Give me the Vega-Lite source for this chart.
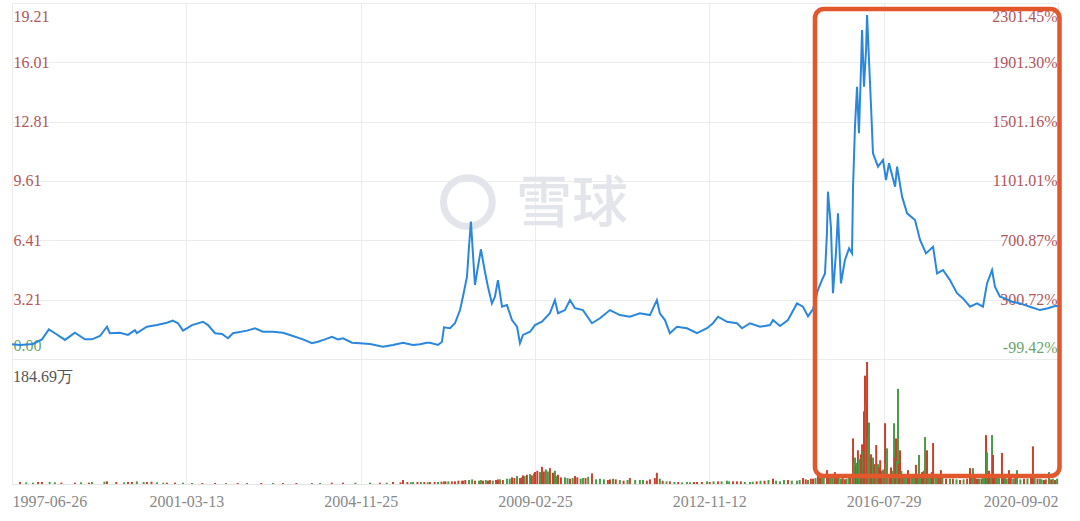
{
  "$schema": "https://vega.github.io/schema/vega-lite/v6.json",
  "width": 1046,
  "height": 481,
  "autosize": {"type": "none"},
  "padding": {"left": 12, "top": 3, "right": 22, "bottom": 37},
  "background": "white",
  "datasets": {
    "highlight": [{"start": "2015-02-11", "end": "2020-09-15"}],
    "logo": [{"date": "2007-07-08", "name": "雪球"}],
    "wordmark": [{"date": "2009-12-09", "name": "雪球"}],
    "vollabel": [{"date": "1997-06-26", "label": "184.69万"}],
    "price": [
      {"date": "1997-06-26", "price": 0.79}, {"date": "1997-08-27", "price": 0.76}, {"date": "1997-12-06", "price": 0.81},
      {"date": "1998-02-14", "price": 1.06}, {"date": "1998-04-09", "price": 1.60}, {"date": "1998-05-26", "price": 1.39},
      {"date": "1998-08-12", "price": 1.03}, {"date": "1998-10-28", "price": 1.42}, {"date": "1999-01-14", "price": 1.06},
      {"date": "1999-03-10", "price": 1.06}, {"date": "1999-05-11", "price": 1.24}, {"date": "1999-07-05", "price": 1.74},
      {"date": "1999-07-27", "price": 1.39}, {"date": "1999-10-13", "price": 1.42}, {"date": "1999-12-15", "price": 1.30},
      {"date": "2000-02-07", "price": 1.56}, {"date": "2000-02-22", "price": 1.40}, {"date": "2000-05-10", "price": 1.74},
      {"date": "2000-07-27", "price": 1.83}, {"date": "2000-10-13", "price": 1.96}, {"date": "2000-11-28", "price": 2.07},
      {"date": "2001-01-07", "price": 1.93}, {"date": "2001-02-15", "price": 1.53}, {"date": "2001-04-26", "price": 1.83},
      {"date": "2001-07-20", "price": 2.01}, {"date": "2001-08-28", "price": 1.83}, {"date": "2001-10-22", "price": 1.39},
      {"date": "2001-12-15", "price": 1.35}, {"date": "2002-01-30", "price": 1.12}, {"date": "2002-03-10", "price": 1.39},
      {"date": "2002-06-27", "price": 1.53}, {"date": "2002-08-28", "price": 1.66}, {"date": "2002-10-28", "price": 1.47},
      {"date": "2003-01-14", "price": 1.47}, {"date": "2003-04-02", "price": 1.42}, {"date": "2003-06-18", "price": 1.24},
      {"date": "2003-09-04", "price": 1.06}, {"date": "2003-11-13", "price": 0.85}, {"date": "2003-12-29", "price": 0.93},
      {"date": "2004-02-22", "price": 1.06}, {"date": "2004-04-16", "price": 1.20}, {"date": "2004-06-02", "price": 1.06},
      {"date": "2004-07-11", "price": 1.12}, {"date": "2004-09-19", "price": 0.88}, {"date": "2004-11-19", "price": 0.85},
      {"date": "2005-02-16", "price": 0.81}, {"date": "2005-06-12", "price": 0.66}, {"date": "2005-09-09", "price": 0.76},
      {"date": "2005-12-07", "price": 0.88}, {"date": "2006-03-06", "price": 0.76}, {"date": "2006-05-07", "price": 0.80},
      {"date": "2006-07-09", "price": 0.88}, {"date": "2006-08-04", "price": 0.88}, {"date": "2006-10-15", "price": 0.76},
      {"date": "2006-11-19", "price": 0.93}, {"date": "2006-12-07", "price": 1.71}, {"date": "2007-01-30", "price": 1.66},
      {"date": "2007-03-15", "price": 1.93}, {"date": "2007-04-29", "price": 2.64}, {"date": "2007-05-25", "price": 3.36},
      {"date": "2007-06-30", "price": 4.44}, {"date": "2007-07-18", "price": 6.06}, {"date": "2007-08-04", "price": 7.41},
      {"date": "2007-08-22", "price": 5.70}, {"date": "2007-09-09", "price": 3.99}, {"date": "2007-10-06", "price": 4.98},
      {"date": "2007-11-01", "price": 5.92}, {"date": "2007-12-07", "price": 4.71}, {"date": "2008-01-03", "price": 3.90},
      {"date": "2008-02-07", "price": 3.00}, {"date": "2008-03-05", "price": 3.36}, {"date": "2008-04-01", "price": 4.26},
      {"date": "2008-05-07", "price": 2.82}, {"date": "2008-06-20", "price": 2.91}, {"date": "2008-08-04", "price": 2.10},
      {"date": "2008-09-18", "price": 1.74}, {"date": "2008-10-14", "price": 0.85}, {"date": "2008-11-10", "price": 1.30},
      {"date": "2009-01-12", "price": 1.47}, {"date": "2009-02-25", "price": 1.83}, {"date": "2009-04-20", "price": 2.01},
      {"date": "2009-06-21", "price": 2.47}, {"date": "2009-07-30", "price": 3.18}, {"date": "2009-08-23", "price": 2.47},
      {"date": "2009-10-16", "price": 2.64}, {"date": "2009-11-24", "price": 3.18}, {"date": "2010-01-02", "price": 2.74},
      {"date": "2010-03-05", "price": 2.64}, {"date": "2010-05-14", "price": 1.93}, {"date": "2010-07-15", "price": 2.20},
      {"date": "2010-10-01", "price": 2.64}, {"date": "2010-12-17", "price": 2.37}, {"date": "2011-03-05", "price": 2.28},
      {"date": "2011-05-22", "price": 2.47}, {"date": "2011-08-08", "price": 2.37}, {"date": "2011-10-01", "price": 3.18},
      {"date": "2011-10-24", "price": 2.47}, {"date": "2011-12-03", "price": 2.10}, {"date": "2012-01-10", "price": 1.39},
      {"date": "2012-03-05", "price": 1.74}, {"date": "2012-05-22", "price": 1.66}, {"date": "2012-08-08", "price": 1.39},
      {"date": "2012-10-25", "price": 1.66}, {"date": "2012-12-10", "price": 1.93}, {"date": "2013-01-19", "price": 2.28},
      {"date": "2013-03-29", "price": 2.01}, {"date": "2013-06-15", "price": 1.93}, {"date": "2013-07-24", "price": 1.66},
      {"date": "2013-09-24", "price": 1.93}, {"date": "2013-12-11", "price": 1.74}, {"date": "2014-02-27", "price": 1.83},
      {"date": "2014-03-22", "price": 2.10}, {"date": "2014-05-15", "price": 1.78}, {"date": "2014-07-16", "price": 2.10},
      {"date": "2014-09-24", "price": 3.00}, {"date": "2014-11-10", "price": 2.82}, {"date": "2014-12-19", "price": 2.30},
      {"date": "2015-01-27", "price": 2.70}, {"date": "2015-03-06", "price": 3.72}, {"date": "2015-04-06", "price": 4.26},
      {"date": "2015-04-30", "price": 4.62}, {"date": "2015-05-15", "price": 6.78}, {"date": "2015-05-23", "price": 9.03},
      {"date": "2015-06-15", "price": 7.14}, {"date": "2015-07-01", "price": 3.55}, {"date": "2015-07-24", "price": 5.70},
      {"date": "2015-08-09", "price": 7.86}, {"date": "2015-09-01", "price": 4.08}, {"date": "2015-10-02", "price": 5.34},
      {"date": "2015-11-03", "price": 5.97}, {"date": "2015-11-26", "price": 5.70}, {"date": "2015-12-04", "price": 9.30},
      {"date": "2015-12-19", "price": 12.54}, {"date": "2016-01-04", "price": 14.69}, {"date": "2016-01-19", "price": 12.18},
      {"date": "2016-02-04", "price": 15.77}, {"date": "2016-02-12", "price": 17.75}, {"date": "2016-02-27", "price": 14.69},
      {"date": "2016-03-14", "price": 16.67}, {"date": "2016-03-22", "price": 18.56}, {"date": "2016-04-06", "price": 16.13},
      {"date": "2016-04-22", "price": 13.61}, {"date": "2016-05-07", "price": 11.10}, {"date": "2016-06-15", "price": 10.38},
      {"date": "2016-07-24", "price": 10.74}, {"date": "2016-08-18", "price": 9.66}, {"date": "2016-09-13", "price": 10.56},
      {"date": "2016-11-04", "price": 9.30}, {"date": "2016-11-21", "price": 10.38}, {"date": "2017-01-03", "price": 8.76},
      {"date": "2017-02-15", "price": 7.86}, {"date": "2017-04-24", "price": 7.50}, {"date": "2017-06-06", "price": 6.42},
      {"date": "2017-07-27", "price": 5.70}, {"date": "2017-09-26", "price": 6.06}, {"date": "2017-10-30", "price": 4.62},
      {"date": "2017-12-20", "price": 4.80}, {"date": "2018-02-18", "price": 4.26}, {"date": "2018-04-19", "price": 3.55},
      {"date": "2018-06-10", "price": 3.27}, {"date": "2018-08-09", "price": 2.82}, {"date": "2018-10-08", "price": 3.00},
      {"date": "2018-11-28", "price": 2.82}, {"date": "2019-01-02", "price": 4.08}, {"date": "2019-02-14", "price": 4.80},
      {"date": "2019-03-11", "price": 3.90}, {"date": "2019-04-23", "price": 3.36}, {"date": "2019-06-05", "price": 3.27},
      {"date": "2019-08-04", "price": 3.09}, {"date": "2019-10-12", "price": 3.00}, {"date": "2020-01-05", "price": 2.82},
      {"date": "2020-03-31", "price": 2.64}, {"date": "2020-06-08", "price": 2.74}, {"date": "2020-08-07", "price": 2.86},
      {"date": "2020-09-02", "price": 2.86}
    ],
    "volume": [
      {"date": "1997-08-27", "vol": 3, "dir": "up"}, {"date": "1997-10-15", "vol": 2.5, "dir": "down"}, {"date": "1997-12-06", "vol": 2, "dir": "down"},
      {"date": "1998-01-15", "vol": 3, "dir": "up"}, {"date": "1998-02-14", "vol": 3, "dir": "up"}, {"date": "1998-04-15", "vol": 3, "dir": "down"},
      {"date": "1998-05-26", "vol": 2.5, "dir": "down"}, {"date": "1998-07-15", "vol": 2, "dir": "up"}, {"date": "1998-10-28", "vol": 2, "dir": "up"},
      {"date": "1998-12-15", "vol": 2.5, "dir": "down"}, {"date": "1999-02-15", "vol": 2, "dir": "up"}, {"date": "1999-03-10", "vol": 3, "dir": "down"},
      {"date": "1999-06-15", "vol": 3.5, "dir": "down"}, {"date": "1999-07-05", "vol": 4, "dir": "up"}, {"date": "1999-09-15", "vol": 3, "dir": "up"},
      {"date": "1999-11-15", "vol": 2.5, "dir": "down"}, {"date": "1999-12-15", "vol": 3, "dir": "up"}, {"date": "2000-01-15", "vol": 3, "dir": "up"},
      {"date": "2000-02-22", "vol": 4, "dir": "down"}, {"date": "2000-04-15", "vol": 3, "dir": "down"}, {"date": "2000-05-10", "vol": 3, "dir": "up"},
      {"date": "2000-06-15", "vol": 3.5, "dir": "up"}, {"date": "2000-07-27", "vol": 2.5, "dir": "down"}, {"date": "2000-09-15", "vol": 2, "dir": "down"},
      {"date": "2000-10-13", "vol": 2, "dir": "up"}, {"date": "2000-12-15", "vol": 2, "dir": "up"}, {"date": "2001-02-15", "vol": 2, "dir": "down"},
      {"date": "2001-04-26", "vol": 1.5, "dir": "down"}, {"date": "2001-07-15", "vol": 1.5, "dir": "up"}, {"date": "2001-10-22", "vol": 1.5, "dir": "up"},
      {"date": "2002-01-15", "vol": 1.5, "dir": "down"}, {"date": "2002-04-15", "vol": 1.5, "dir": "up"}, {"date": "2002-06-27", "vol": 1.5, "dir": "down"},
      {"date": "2002-10-15", "vol": 1.5, "dir": "up"}, {"date": "2003-01-15", "vol": 1.5, "dir": "down"}, {"date": "2003-04-02", "vol": 1.5, "dir": "up"},
      {"date": "2003-07-15", "vol": 1.5, "dir": "up"}, {"date": "2003-11-13", "vol": 1.5, "dir": "down"}, {"date": "2004-01-15", "vol": 1.5, "dir": "down"},
      {"date": "2004-04-15", "vol": 2, "dir": "up"}, {"date": "2004-07-11", "vol": 2, "dir": "up"}, {"date": "2004-10-15", "vol": 2, "dir": "down"},
      {"date": "2005-02-16", "vol": 2, "dir": "down"}, {"date": "2005-05-15", "vol": 2, "dir": "up"}, {"date": "2005-07-15", "vol": 2, "dir": "down"},
      {"date": "2005-09-09", "vol": 3, "dir": "up"}, {"date": "2005-11-15", "vol": 2.5, "dir": "up"}, {"date": "2005-12-07", "vol": 6, "dir": "up"},
      {"date": "2006-01-15", "vol": 3, "dir": "up"}, {"date": "2006-02-15", "vol": 2.5, "dir": "down"}, {"date": "2006-03-06", "vol": 3, "dir": "down"},
      {"date": "2006-04-15", "vol": 3, "dir": "up"}, {"date": "2006-05-15", "vol": 3, "dir": "down"}, {"date": "2006-06-15", "vol": 3, "dir": "up"},
      {"date": "2006-07-15", "vol": 2.5, "dir": "down"}, {"date": "2006-08-04", "vol": 3, "dir": "up"}, {"date": "2006-09-15", "vol": 3, "dir": "up"},
      {"date": "2006-10-15", "vol": 3, "dir": "down"}, {"date": "2006-11-15", "vol": 3.5, "dir": "up"}, {"date": "2006-12-07", "vol": 4, "dir": "down"},
      {"date": "2006-12-20", "vol": 4, "dir": "up"}, {"date": "2007-01-15", "vol": 4, "dir": "down"}, {"date": "2007-02-15", "vol": 4, "dir": "up"},
      {"date": "2007-03-15", "vol": 4, "dir": "up"}, {"date": "2007-04-15", "vol": 5, "dir": "up"}, {"date": "2007-05-15", "vol": 5, "dir": "down"},
      {"date": "2007-05-25", "vol": 5, "dir": "up"}, {"date": "2007-06-15", "vol": 6, "dir": "up"}, {"date": "2007-07-18", "vol": 6, "dir": "down"},
      {"date": "2007-08-15", "vol": 7, "dir": "down"}, {"date": "2007-09-09", "vol": 5, "dir": "up"}, {"date": "2007-10-15", "vol": 5, "dir": "down"},
      {"date": "2007-11-01", "vol": 6, "dir": "down"}, {"date": "2007-11-20", "vol": 5, "dir": "up"}, {"date": "2007-12-15", "vol": 6, "dir": "down"},
      {"date": "2008-01-03", "vol": 5, "dir": "up"}, {"date": "2008-01-20", "vol": 6, "dir": "up"}, {"date": "2008-02-15", "vol": 5, "dir": "down"},
      {"date": "2008-03-15", "vol": 6, "dir": "up"}, {"date": "2008-04-01", "vol": 7, "dir": "up"}, {"date": "2008-04-20", "vol": 7, "dir": "down"},
      {"date": "2008-05-15", "vol": 6, "dir": "up"}, {"date": "2008-06-20", "vol": 8, "dir": "down"}, {"date": "2008-07-15", "vol": 8, "dir": "down"},
      {"date": "2008-08-04", "vol": 10, "dir": "up"}, {"date": "2008-08-25", "vol": 9, "dir": "up"}, {"date": "2008-09-18", "vol": 12, "dir": "down"},
      {"date": "2008-10-14", "vol": 9, "dir": "up"}, {"date": "2008-10-30", "vol": 10, "dir": "up"}, {"date": "2008-11-10", "vol": 13, "dir": "up"},
      {"date": "2008-11-25", "vol": 12, "dir": "down"}, {"date": "2008-12-15", "vol": 14, "dir": "up"}, {"date": "2009-01-12", "vol": 15, "dir": "down"},
      {"date": "2009-01-28", "vol": 13, "dir": "up"}, {"date": "2009-02-15", "vol": 16, "dir": "down"}, {"date": "2009-02-25", "vol": 18, "dir": "up"},
      {"date": "2009-03-15", "vol": 20, "dir": "up"}, {"date": "2009-04-05", "vol": 18, "dir": "down"}, {"date": "2009-04-20", "vol": 26, "dir": "up"},
      {"date": "2009-05-05", "vol": 19, "dir": "up"}, {"date": "2009-05-21", "vol": 22, "dir": "down"}, {"date": "2009-06-05", "vol": 19, "dir": "down"},
      {"date": "2009-06-21", "vol": 24, "dir": "up"}, {"date": "2009-07-15", "vol": 17, "dir": "up"}, {"date": "2009-07-30", "vol": 20, "dir": "down"},
      {"date": "2009-08-10", "vol": 12, "dir": "down"}, {"date": "2009-08-23", "vol": 14, "dir": "up"}, {"date": "2009-09-15", "vol": 10, "dir": "up"},
      {"date": "2009-10-16", "vol": 10, "dir": "down"}, {"date": "2009-11-05", "vol": 9, "dir": "down"}, {"date": "2009-11-24", "vol": 8, "dir": "up"},
      {"date": "2009-12-15", "vol": 9, "dir": "down"}, {"date": "2010-01-02", "vol": 12, "dir": "up"}, {"date": "2010-01-20", "vol": 10, "dir": "up"},
      {"date": "2010-02-15", "vol": 8, "dir": "down"}, {"date": "2010-03-05", "vol": 9, "dir": "down"}, {"date": "2010-03-25", "vol": 9, "dir": "up"},
      {"date": "2010-04-15", "vol": 11, "dir": "down"}, {"date": "2010-05-14", "vol": 16, "dir": "up"}, {"date": "2010-06-15", "vol": 7, "dir": "down"},
      {"date": "2010-07-15", "vol": 8, "dir": "down"}, {"date": "2010-08-15", "vol": 7, "dir": "down"}, {"date": "2010-09-15", "vol": 6, "dir": "up"},
      {"date": "2010-10-01", "vol": 7, "dir": "up"}, {"date": "2010-10-25", "vol": 8, "dir": "down"}, {"date": "2010-11-15", "vol": 7, "dir": "up"},
      {"date": "2010-12-17", "vol": 6, "dir": "down"}, {"date": "2011-01-15", "vol": 5, "dir": "up"}, {"date": "2011-02-15", "vol": 6, "dir": "down"},
      {"date": "2011-03-05", "vol": 9, "dir": "up"}, {"date": "2011-04-15", "vol": 6, "dir": "down"}, {"date": "2011-05-22", "vol": 6, "dir": "down"},
      {"date": "2011-06-15", "vol": 6, "dir": "down"}, {"date": "2011-07-15", "vol": 5, "dir": "up"}, {"date": "2011-08-08", "vol": 7, "dir": "up"},
      {"date": "2011-09-15", "vol": 9, "dir": "up"}, {"date": "2011-10-01", "vol": 17, "dir": "up"}, {"date": "2011-10-24", "vol": 8, "dir": "down"},
      {"date": "2011-11-15", "vol": 5, "dir": "up"}, {"date": "2011-12-15", "vol": 4, "dir": "down"}, {"date": "2012-01-10", "vol": 4, "dir": "up"},
      {"date": "2012-02-15", "vol": 3, "dir": "down"}, {"date": "2012-03-15", "vol": 3, "dir": "up"}, {"date": "2012-04-15", "vol": 2.5, "dir": "down"},
      {"date": "2012-05-22", "vol": 3, "dir": "down"}, {"date": "2012-06-15", "vol": 2.5, "dir": "down"}, {"date": "2012-07-15", "vol": 3, "dir": "up"},
      {"date": "2012-08-08", "vol": 3, "dir": "up"}, {"date": "2012-09-15", "vol": 3, "dir": "up"}, {"date": "2012-10-25", "vol": 4, "dir": "down"},
      {"date": "2012-11-15", "vol": 3, "dir": "up"}, {"date": "2012-12-15", "vol": 4, "dir": "down"}, {"date": "2013-01-19", "vol": 4, "dir": "up"},
      {"date": "2013-02-15", "vol": 4, "dir": "down"}, {"date": "2013-03-29", "vol": 5, "dir": "down"}, {"date": "2013-04-15", "vol": 4, "dir": "down"},
      {"date": "2013-05-15", "vol": 4, "dir": "up"}, {"date": "2013-06-15", "vol": 4, "dir": "up"}, {"date": "2013-07-15", "vol": 4, "dir": "up"},
      {"date": "2013-08-15", "vol": 3, "dir": "down"}, {"date": "2013-09-24", "vol": 3, "dir": "down"}, {"date": "2013-10-15", "vol": 3.5, "dir": "down"},
      {"date": "2013-11-15", "vol": 4, "dir": "up"}, {"date": "2013-12-15", "vol": 5, "dir": "down"}, {"date": "2014-01-15", "vol": 5, "dir": "up"},
      {"date": "2014-02-15", "vol": 6, "dir": "down"}, {"date": "2014-03-22", "vol": 8, "dir": "up"}, {"date": "2014-04-15", "vol": 5, "dir": "down"},
      {"date": "2014-05-15", "vol": 4, "dir": "down"}, {"date": "2014-06-15", "vol": 6, "dir": "down"}, {"date": "2014-07-16", "vol": 6, "dir": "up"},
      {"date": "2014-08-15", "vol": 5, "dir": "down"}, {"date": "2014-09-24", "vol": 5, "dir": "down"}, {"date": "2014-10-15", "vol": 6, "dir": "down"},
      {"date": "2014-11-10", "vol": 9, "dir": "up"}, {"date": "2014-12-01", "vol": 7, "dir": "up"}, {"date": "2014-12-19", "vol": 6, "dir": "down"},
      {"date": "2015-01-10", "vol": 8, "dir": "up"}, {"date": "2015-01-27", "vol": 8, "dir": "up"}, {"date": "2015-02-15", "vol": 9, "dir": "down"},
      {"date": "2015-03-06", "vol": 12, "dir": "up"}, {"date": "2015-03-22", "vol": 10, "dir": "up"}, {"date": "2015-04-06", "vol": 9, "dir": "down"},
      {"date": "2015-04-20", "vol": 12, "dir": "down"}, {"date": "2015-05-15", "vol": 21, "dir": "up"}, {"date": "2015-05-30", "vol": 14, "dir": "up"},
      {"date": "2015-06-15", "vol": 10, "dir": "down"}, {"date": "2015-06-30", "vol": 12, "dir": "down"}, {"date": "2015-07-16", "vol": 18, "dir": "up"},
      {"date": "2015-08-01", "vol": 10, "dir": "up"}, {"date": "2015-08-15", "vol": 12, "dir": "down"}, {"date": "2015-09-01", "vol": 8, "dir": "down"},
      {"date": "2015-09-15", "vol": 9, "dir": "up"}, {"date": "2015-10-02", "vol": 7, "dir": "up"}, {"date": "2015-10-15", "vol": 8, "dir": "down"},
      {"date": "2015-11-03", "vol": 10, "dir": "down"}, {"date": "2015-11-15", "vol": 10, "dir": "up"}, {"date": "2015-12-04", "vol": 69, "dir": "up"},
      {"date": "2015-12-12", "vol": 30, "dir": "down"}, {"date": "2015-12-19", "vol": 40, "dir": "down"}, {"date": "2015-12-27", "vol": 28, "dir": "up"},
      {"date": "2016-01-04", "vol": 32, "dir": "down"}, {"date": "2016-01-11", "vol": 51, "dir": "up"}, {"date": "2016-01-19", "vol": 38, "dir": "down"},
      {"date": "2016-01-27", "vol": 35, "dir": "down"}, {"date": "2016-02-04", "vol": 45, "dir": "up"}, {"date": "2016-02-12", "vol": 60, "dir": "up"},
      {"date": "2016-02-20", "vol": 50, "dir": "down"}, {"date": "2016-02-27", "vol": 110, "dir": "up"}, {"date": "2016-03-06", "vol": 164, "dir": "up"},
      {"date": "2016-03-14", "vol": 120, "dir": "down"}, {"date": "2016-03-22", "vol": 184.69, "dir": "up"}, {"date": "2016-03-30", "vol": 70, "dir": "down"},
      {"date": "2016-04-06", "vol": 93, "dir": "down"}, {"date": "2016-04-14", "vol": 40, "dir": "down"}, {"date": "2016-04-22", "vol": 45, "dir": "up"},
      {"date": "2016-04-30", "vol": 35, "dir": "up"}, {"date": "2016-05-07", "vol": 40, "dir": "down"}, {"date": "2016-05-18", "vol": 30, "dir": "up"},
      {"date": "2016-06-01", "vol": 59, "dir": "up"}, {"date": "2016-06-08", "vol": 28, "dir": "down"}, {"date": "2016-06-15", "vol": 30, "dir": "down"},
      {"date": "2016-06-24", "vol": 25, "dir": "up"}, {"date": "2016-07-02", "vol": 36, "dir": "up"}, {"date": "2016-07-15", "vol": 20, "dir": "up"},
      {"date": "2016-07-25", "vol": 22, "dir": "down"}, {"date": "2016-08-10", "vol": 92, "dir": "up"}, {"date": "2016-08-18", "vol": 30, "dir": "down"},
      {"date": "2016-08-27", "vol": 54, "dir": "down"}, {"date": "2016-09-15", "vol": 15, "dir": "up"}, {"date": "2016-09-30", "vol": 25, "dir": "up"},
      {"date": "2016-10-15", "vol": 20, "dir": "down"}, {"date": "2016-10-26", "vol": 92, "dir": "down"}, {"date": "2016-11-05", "vol": 40, "dir": "up"},
      {"date": "2016-11-12", "vol": 69, "dir": "up"}, {"date": "2016-11-20", "vol": 35, "dir": "down"}, {"date": "2016-11-29", "vol": 144, "dir": "down"},
      {"date": "2016-12-08", "vol": 30, "dir": "up"}, {"date": "2016-12-16", "vol": 51, "dir": "up"}, {"date": "2016-12-28", "vol": 20, "dir": "down"},
      {"date": "2017-01-10", "vol": 12, "dir": "up"}, {"date": "2017-01-20", "vol": 15, "dir": "down"}, {"date": "2017-02-05", "vol": 10, "dir": "down"},
      {"date": "2017-02-23", "vol": 21, "dir": "up"}, {"date": "2017-03-10", "vol": 12, "dir": "up"}, {"date": "2017-03-29", "vol": 12, "dir": "down"},
      {"date": "2017-04-15", "vol": 10, "dir": "down"}, {"date": "2017-05-02", "vol": 29, "dir": "up"}, {"date": "2017-05-15", "vol": 15, "dir": "up"},
      {"date": "2017-05-28", "vol": 44, "dir": "down"}, {"date": "2017-06-10", "vol": 12, "dir": "down"}, {"date": "2017-06-23", "vol": 18, "dir": "up"},
      {"date": "2017-07-08", "vol": 20, "dir": "up"}, {"date": "2017-07-19", "vol": 71, "dir": "down"}, {"date": "2017-08-05", "vol": 51, "dir": "up"},
      {"date": "2017-08-15", "vol": 15, "dir": "down"}, {"date": "2017-08-31", "vol": 15, "dir": "down"}, {"date": "2017-09-15", "vol": 18, "dir": "up"},
      {"date": "2017-09-26", "vol": 62, "dir": "up"}, {"date": "2017-10-15", "vol": 12, "dir": "down"}, {"date": "2017-10-30", "vol": 10, "dir": "down"},
      {"date": "2017-11-15", "vol": 10, "dir": "up"}, {"date": "2017-12-02", "vol": 21, "dir": "up"}, {"date": "2017-12-15", "vol": 10, "dir": "down"},
      {"date": "2018-01-15", "vol": 8, "dir": "up"}, {"date": "2018-02-18", "vol": 8, "dir": "down"}, {"date": "2018-03-15", "vol": 8, "dir": "up"},
      {"date": "2018-04-15", "vol": 7, "dir": "down"}, {"date": "2018-05-15", "vol": 6, "dir": "up"}, {"date": "2018-06-15", "vol": 7, "dir": "down"},
      {"date": "2018-07-15", "vol": 8, "dir": "up"}, {"date": "2018-08-09", "vol": 24, "dir": "up"}, {"date": "2018-08-25", "vol": 10, "dir": "down"},
      {"date": "2018-09-03", "vol": 24, "dir": "down"}, {"date": "2018-09-20", "vol": 9, "dir": "up"}, {"date": "2018-10-08", "vol": 8, "dir": "up"},
      {"date": "2018-10-25", "vol": 8, "dir": "down"}, {"date": "2018-11-15", "vol": 8, "dir": "up"}, {"date": "2018-11-28", "vol": 10, "dir": "down"},
      {"date": "2018-12-10", "vol": 10, "dir": "down"}, {"date": "2018-12-24", "vol": 74, "dir": "up"}, {"date": "2019-01-02", "vol": 48, "dir": "down"},
      {"date": "2019-01-10", "vol": 12, "dir": "up"}, {"date": "2019-01-19", "vol": 20, "dir": "up"}, {"date": "2019-02-05", "vol": 14, "dir": "down"},
      {"date": "2019-02-14", "vol": 74, "dir": "down"}, {"date": "2019-02-22", "vol": 44, "dir": "up"}, {"date": "2019-03-10", "vol": 10, "dir": "up"},
      {"date": "2019-03-28", "vol": 12, "dir": "down"}, {"date": "2019-04-15", "vol": 9, "dir": "down"}, {"date": "2019-05-10", "vol": 47, "dir": "up"},
      {"date": "2019-05-25", "vol": 10, "dir": "up"}, {"date": "2019-06-05", "vol": 10, "dir": "down"}, {"date": "2019-06-20", "vol": 8, "dir": "down"},
      {"date": "2019-07-09", "vol": 21, "dir": "up"}, {"date": "2019-07-25", "vol": 9, "dir": "up"}, {"date": "2019-08-15", "vol": 8, "dir": "down"},
      {"date": "2019-09-01", "vol": 9, "dir": "up"}, {"date": "2019-09-16", "vol": 21, "dir": "down"}, {"date": "2019-10-15", "vol": 7, "dir": "down"},
      {"date": "2019-11-15", "vol": 8, "dir": "up"}, {"date": "2019-12-15", "vol": 8, "dir": "down"}, {"date": "2020-01-15", "vol": 10, "dir": "up"},
      {"date": "2020-01-31", "vol": 57, "dir": "up"}, {"date": "2020-02-15", "vol": 9, "dir": "down"}, {"date": "2020-03-10", "vol": 8, "dir": "up"},
      {"date": "2020-03-31", "vol": 8, "dir": "down"}, {"date": "2020-04-15", "vol": 7, "dir": "down"}, {"date": "2020-05-05", "vol": 6, "dir": "up"},
      {"date": "2020-05-20", "vol": 7, "dir": "up"}, {"date": "2020-06-17", "vol": 18, "dir": "down"}, {"date": "2020-07-05", "vol": 7, "dir": "up"},
      {"date": "2020-07-20", "vol": 8, "dir": "down"}, {"date": "2020-08-07", "vol": 6, "dir": "up"}, {"date": "2020-08-25", "vol": 8, "dir": "down"}
    ]
  },
  "config": {
    "view": {"stroke": "#e4e4e4", "strokeWidth": 1},
    "axis": {
      "labelFont": "Liberation Serif",
      "labelFontSize": 16,
      "domain": false,
      "ticks": false,
      "tickSize": 0,
      "title": null,
      "labelOverlap": false,
      "labelBound": false,
      "gridColor": "#ececec",
      "gridWidth": 1
    }
  },
  "resolve": {"scale": {"y": "independent"}},
  "layer": [
    {
      "data": {"name": "logo"},
      "mark": {"type": "point", "shape": "circle", "filled": false, "size": 2376, "strokeWidth": 7, "color": "#e3e5ea", "opacity": 1},
      "encoding": {
        "x": {"field": "date", "type": "temporal"},
        "y": {"datum": 8.47, "type": "quantitative", "scale": {"domain": [-6.745, 19.21], "nice": false, "zero": false}, "axis": null}
      }
    },
    {
      "data": {"name": "wordmark"},
      "mark": {"type": "text", "font": "Noto Sans CJK SC", "fontSize": 56, "fontWeight": 500, "color": "#e3e5ea", "align": "center", "baseline": "middle"},
      "encoding": {
        "x": {"field": "date", "type": "temporal"},
        "y": {"datum": 8.31, "type": "quantitative", "scale": {"domain": [-6.745, 19.21], "nice": false, "zero": false}, "axis": null},
        "text": {"field": "name"}
      }
    },
    {
      "mark": {"type": "rule", "strokeDash": [3, 4], "color": "#8c8c8c", "strokeWidth": 1},
      "encoding": {
        "y": {
          "datum": 0.8,
          "type": "quantitative",
          "scale": {"domain": [-6.745, 19.21], "nice": false, "zero": false},
          "axis": {
            "orient": "right",
            "values": [0, 3.21, 6.41, 9.61, 12.81, 16.01, 19.21],
            "labelExpr": "datum.value > 19 ? '2301.45%' : datum.value > 16 ? '1901.30%' : datum.value > 12 ? '1501.16%' : datum.value > 9 ? '1101.01%' : datum.value > 6 ? '700.87%' : datum.value > 3 ? '300.72%' : '-99.42%'",
            "labelAlign": "right",
            "labelBaseline": "middle",
            "labelPadding": -1,
            "grid": false,
            "labelColor": {"condition": {"test": "datum.value < 1", "value": "#6aa56b"}, "value": "#b0575d"},
            "labelOffset": {"condition": [{"test": "datum.value > 19", "value": 13}, {"test": "datum.value < 1", "value": -12}], "value": 0}
          }
        }
      }
    },
    {
      "data": {"name": "price"},
      "mark": {"type": "line", "color": "#2b87dd", "strokeWidth": 2, "interpolate": "linear"},
      "encoding": {
        "x": {
          "field": "date",
          "type": "temporal",
          "scale": {
            "type": "utc",
            "nice": false,
            "domain": {"expr": "[utc(1997,5,26), utc(2001,2,13), utc(2004,10,25), utc(2009,1,25), utc(2012,10,12), utc(2016,6,29), utc(2020,8,2)]"},
            "range": [0, 174.333, 348.667, 523, 697.333, 871.667, 1046]
          },
          "axis": {
            "values": {"expr": "[utc(1997,5,26), utc(2001,2,13), utc(2004,10,25), utc(2009,1,25), utc(2012,10,12), utc(2016,6,29), utc(2020,8,2)]"},
            "labelExpr": "utcFormat(datum.value, '%Y-%m-%d')",
            "labelFont": "Liberation Serif",
            "labelFontSize": 16,
            "labelFlush": true,
            "labelPadding": 9,
            "labelColor": "#888888",
            "grid": true
          }
        },
        "y": {
          "field": "price",
          "type": "quantitative",
          "scale": {"domain": [-6.745, 19.21], "nice": false, "zero": false},
          "axis": {
            "orient": "left",
            "values": [0, 3.21, 6.41, 9.61, 12.81, 16.01, 19.21],
            "format": ".2f",
            "labelAlign": "left",
            "labelBaseline": "middle",
            "labelPadding": -1,
            "grid": true,
            "labelColor": {"condition": {"test": "datum.value < 1", "value": "#6aa56b"}, "value": "#b0575d"},
            "labelOffset": {"condition": [{"test": "datum.value > 19", "value": 13}, {"test": "datum.value < 1", "value": -14}], "value": 0}
          }
        }
      }
    },
    {
      "data": {"name": "volume"},
      "mark": {"type": "rule", "strokeWidth": 2},
      "encoding": {
        "x": {"field": "date", "type": "temporal"},
        "y": {"field": "vol", "type": "quantitative", "scale": {"domain": [0, 728.2], "nice": false}, "axis": null},
        "y2": {"datum": 0},
        "color": {"field": "dir", "type": "nominal", "scale": {"domain": ["up", "down"], "range": ["#c9402c", "#4a9a46"]}, "legend": null}
      }
    },
    {
      "data": {"name": "vollabel"},
      "mark": {"type": "text", "font": "Liberation Serif", "fontSize": 16, "color": "#555555", "align": "left", "baseline": "top", "dx": 1, "dy": 7},
      "encoding": {
        "x": {"field": "date", "type": "temporal"},
        "y": {"datum": 184.69, "type": "quantitative", "scale": {"domain": [0, 728.2], "nice": false}, "axis": null},
        "text": {"field": "label"}
      }
    },
    {
      "data": {"name": "highlight"},
      "mark": {"type": "rect", "filled": false, "color": "#e2572b", "strokeWidth": 4.5, "cornerRadius": 9},
      "encoding": {
        "x": {"field": "start", "type": "temporal"},
        "x2": {"field": "end"},
        "y": {"datum": 18.886, "type": "quantitative", "scale": {"domain": [-6.745, 19.21], "nice": false, "zero": false}, "axis": null},
        "y2": {"datum": -6.313}
      }
    }
  ]
}
